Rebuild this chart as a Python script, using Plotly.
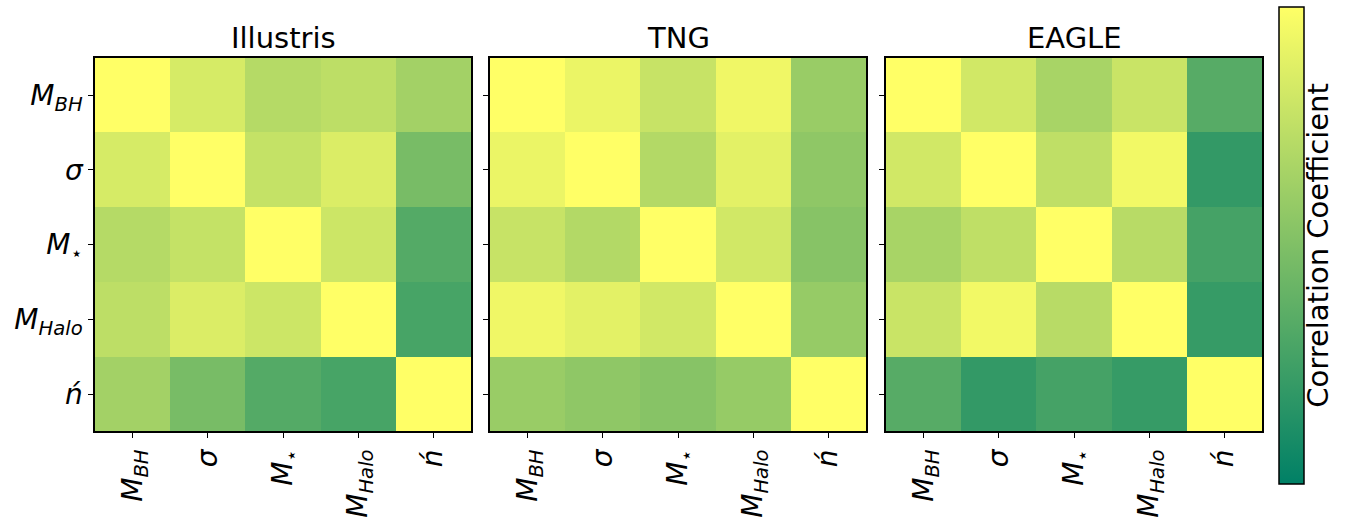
import plotly.graph_objects as go

# Galaxy / black-hole properties
labels = [
    "<i>M</i><sub><i>BH</i></sub>",
    "<i>σ</i>",
    "<i>M</i><sub>⋆</sub>",
    "<i>M</i><sub><i>Halo</i></sub>",
    "<i>ń</i>",
]

sim_names = ["Illustris", "TNG", "EAGLE"]

# Correlation matrices (rows/cols follow `labels`)
illustris = [
    [1.00, 0.84, 0.71, 0.74, 0.64],
    [0.84, 1.00, 0.77, 0.86, 0.47],
    [0.71, 0.77, 1.00, 0.80, 0.33],
    [0.74, 0.86, 0.80, 1.00, 0.28],
    [0.64, 0.47, 0.33, 0.28, 1.00],
]
tng = [
    [1.00, 0.92, 0.78, 0.94, 0.60],
    [0.92, 1.00, 0.70, 0.89, 0.56],
    [0.78, 0.70, 1.00, 0.82, 0.53],
    [0.94, 0.89, 0.82, 1.00, 0.59],
    [0.60, 0.56, 0.53, 0.59, 1.00],
]
eagle = [
    [1.00, 0.82, 0.66, 0.79, 0.34],
    [0.82, 1.00, 0.75, 0.95, 0.20],
    [0.66, 0.75, 1.00, 0.72, 0.27],
    [0.79, 0.95, 0.72, 1.00, 0.21],
    [0.34, 0.20, 0.27, 0.21, 1.00],
]
matrices = [illustris, tng, eagle]

# matplotlib "summer" colormap (linear)
summer = [[0.0, "rgb(0,128,102)"], [1.0, "rgb(255,255,102)"]]

W, H = 1347, 518
x_domains = [(95, 471), (490, 866), (886, 1262)]
y_top, y_bot = 58, 434
font_family = "DejaVu Sans"

fig = go.Figure()

for i, (name, z) in enumerate(zip(sim_names, matrices)):
    ax = "" if i == 0 else str(i + 1)
    fig.add_trace(go.Heatmap(
        z=z,
        x=list(range(len(labels))),
        y=list(range(len(labels))),
        colorscale=summer,
        zmin=0, zmax=1,
        xaxis="x" + ax, yaxis="y" + ax,
        showscale=(i == 0),
        colorbar=dict(
            x=1279 / W, xanchor="left", xpad=0,
            y=1 - 7 / H, yanchor="top", ypad=0,
            len=477, lenmode="pixels",
            thickness=25, thicknessmode="pixels",
            outlinecolor="black", outlinewidth=1.5,
            ticks="", showticklabels=False,
            title=dict(text="Correlation Coefficient", side="right",
                       font=dict(size=29, family=font_family, color="black")),
        ),
    ))
    x0, x1 = x_domains[i]
    axis_common = dict(
        showline=True, mirror=True, linecolor="black", linewidth=1.5,
        ticks="outside", ticklen=5, tickwidth=1.2, tickcolor="black",
        showgrid=False, zeroline=False,
        tickvals=list(range(len(labels))),
        ticktext=labels,
        tickfont=dict(size=28, family=font_family, color="black"),
    )
    fig.update_layout({
        "xaxis" + ax: dict(
            axis_common,
            domain=[x0 / W, x1 / W],
            anchor="y" + ax,
            range=[-0.5, 4.5],
            tickangle=-90,
        ),
        "yaxis" + ax: dict(
            axis_common,
            domain=[1 - y_bot / H, 1 - y_top / H],
            anchor="x" + ax,
            range=[4.5, -0.5],
            showticklabels=(i == 0),
        ),
    })
    fig.add_annotation(
        text=name, x=(x0 + x1) / 2 / W, y=1 - 38 / H,
        xref="paper", yref="paper", showarrow=False,
        xanchor="center", yanchor="middle",
        font=dict(size=29, family=font_family, color="black"),
    )

fig.update_layout(
    width=W, height=H,
    margin=dict(l=0, r=0, t=0, b=0),
    paper_bgcolor="white", plot_bgcolor="white",
    showlegend=False,
)

fig.write_html("out.html")
